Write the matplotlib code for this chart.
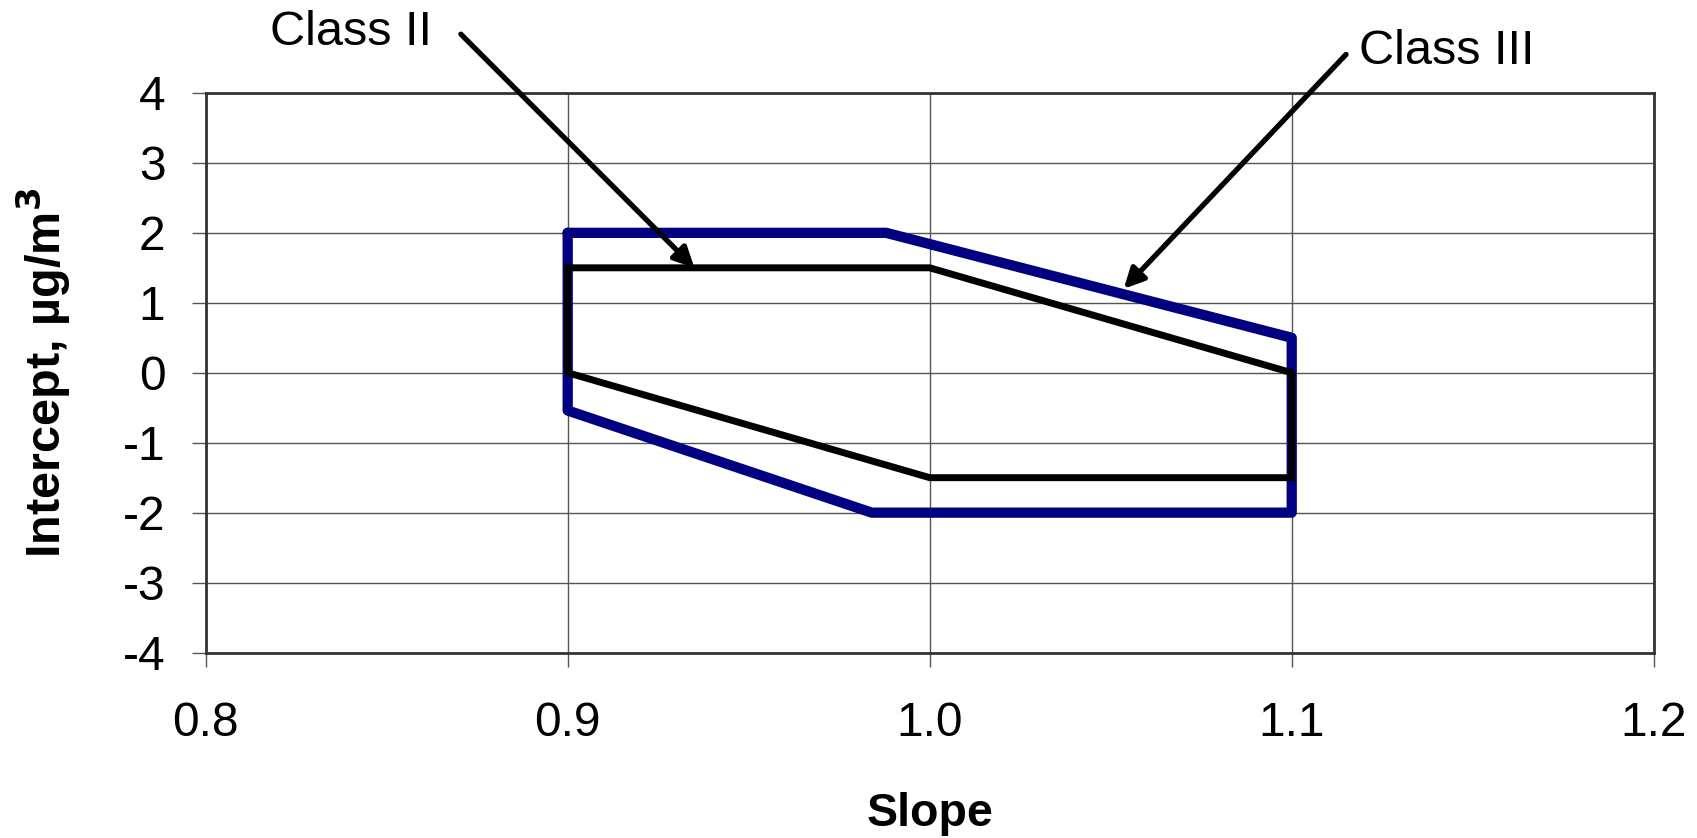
import matplotlib
matplotlib.use("Agg")
import matplotlib.pyplot as plt

# Class III and Class II acceptance regions (slope vs intercept)
class3_slope = [0.9, 0.988, 1.1, 1.1, 0.984, 0.9, 0.9]
class3_intercept = [2.0, 2.0, 0.5, -2.0, -2.0, -0.54, 2.0]
class2_slope = [0.9, 1.0, 1.1, 1.1, 1.0, 0.9, 0.9]
class2_intercept = [1.5, 1.5, 0.0, -1.5, -1.5, 0.0, 1.5]

x_ticks = [0.8, 0.9, 1.0, 1.1, 1.2]
y_ticks = [-4, -3, -2, -1, 0, 1, 2, 3, 4]

plt.rcParams["font.family"] = ["Liberation Sans", "DejaVu Sans"]

fig = plt.figure(figsize=(16.97, 8.38), dpi=100)
ax = fig.add_axes([0.1212, 0.2213, 0.8533, 0.6678])

ax.plot(class3_slope, class3_intercept, color="#000080", lw=7.4,
        solid_joinstyle="round", solid_capstyle="round", zorder=3)
ax.plot(class2_slope, class2_intercept, color="black", lw=5.0,
        solid_joinstyle="miter", zorder=4)

ax.set_xlim(0.8, 1.2)
ax.set_ylim(-4, 4)
ax.set_xticks(x_ticks)
ax.set_xticklabels(["%.1f" % v for v in x_ticks])
ax.set_yticks(y_ticks)
ax.set_yticklabels([str(v) for v in y_ticks])

ax.grid(True, color="#555555", lw=1.0)
ax.set_axisbelow(True)
for s in ax.spines.values():
    s.set_color("#333333")
    s.set_linewidth(2)

ax.tick_params(axis="both", labelsize=34.5, color="#555555", width=1, length=10)
ax.tick_params(axis="x", pad=25)
ax.tick_params(axis="y", pad=19)

ax.set_xlabel("Slope", fontsize=33.5, fontweight="bold")
ax.xaxis.set_label_coords(0.5, -0.288)
ax.xaxis.label.set_va("center")
ax.set_ylabel("Intercept, µg/m$^\\mathbf{3}$", fontsize=35, fontweight="bold")
ax.yaxis.set_label_coords(-0.112, 0.5)
ax.yaxis.label.set_va("center")

arrow = dict(arrowstyle="-|>", color="black", lw=3.8, mutation_scale=30,
             shrinkA=0, shrinkB=0, capstyle="round")
ax.annotate("", xy=(0.935, 1.5), xytext=(0.8705, 4.84), arrowprops=arrow,
            annotation_clip=False, zorder=5)
ax.annotate("", xy=(1.0536, 1.2), xytext=(1.115, 4.55), arrowprops=arrow,
            annotation_clip=False, zorder=5)
ax.text(0.8402, 4.865, "Class II", fontsize=35, ha="center", va="center", clip_on=False)
ax.text(1.1429, 4.586, "Class III", fontsize=35, ha="center", va="center", clip_on=False)

fig.savefig("out.png", dpi=100)
